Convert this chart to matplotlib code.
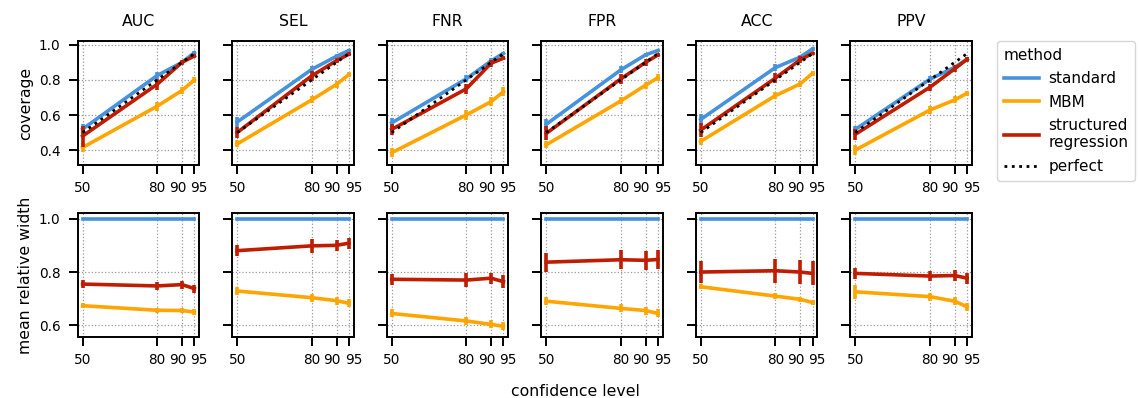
import matplotlib
matplotlib.use("Agg")
import matplotlib.pyplot as plt
import matplotlib.transforms as mtransforms
import numpy as np
from matplotlib.lines import Line2D

# confidence levels on the x axis
levels = [50, 80, 90, 95]
metrics = ["AUC", "SEL", "FNR", "FPR", "ACC", "PPV"]

# coverage (top row), one list per metric, order follows `levels`
cov_standard = {
    "AUC": [0.52, 0.825, 0.90, 0.955],
    "SEL": [0.56, 0.86, 0.935, 0.968],
    "FNR": [0.555, 0.806, 0.908, 0.952],
    "FPR": [0.547, 0.857, 0.943, 0.968],
    "ACC": [0.575, 0.87, 0.93, 0.977],
    "PPV": [0.518, 0.804, 0.872, 0.918],
}
cov_mbm = {
    "AUC": [0.415, 0.65, 0.74, 0.80],
    "SEL": [0.435, 0.686, 0.775, 0.83],
    "FNR": [0.385, 0.60, 0.676, 0.733],
    "FPR": [0.43, 0.68, 0.77, 0.813],
    "ACC": [0.45, 0.71, 0.777, 0.838],
    "PPV": [0.40, 0.628, 0.686, 0.724],
}
cov_sr = {
    "AUC": [0.48, 0.775, 0.90, 0.937],
    "SEL": [0.50, 0.823, 0.91, 0.947],
    "FNR": [0.518, 0.749, 0.895, 0.924],
    "FPR": [0.495, 0.806, 0.90, 0.943],
    "ACC": [0.514, 0.81, 0.914, 0.952],
    "PPV": [0.49, 0.758, 0.863, 0.918],
}
# half widths of the error bars
cov_standard_err = {
    "AUC": [0.03, 0.02, 0.01, 0.01],
    "SEL": [0.03, 0.02, 0.01, 0.01],
    "FNR": [0.03, 0.02, 0.015, 0.01],
    "FPR": [0.03, 0.02, 0.01, 0.01],
    "ACC": [0.03, 0.02, 0.01, 0.01],
    "PPV": [0.02, 0.02, 0.01, 0.01],
}
cov_mbm_err = {
    "AUC": [0.025, 0.025, 0.02, 0.015],
    "SEL": [0.02, 0.02, 0.02, 0.015],
    "FNR": [0.025, 0.03, 0.025, 0.025],
    "FPR": [0.02, 0.02, 0.02, 0.02],
    "ACC": [0.02, 0.02, 0.015, 0.015],
    "PPV": [0.03, 0.025, 0.02, 0.015],
}
cov_sr_err = {
    "AUC": [0.06, 0.03, 0.015, 0.01],
    "SEL": [0.03, 0.03, 0.015, 0.01],
    "FNR": [0.03, 0.03, 0.02, 0.01],
    "FPR": [0.04, 0.03, 0.02, 0.01],
    "ACC": [0.04, 0.03, 0.02, 0.01],
    "PPV": [0.03, 0.02, 0.02, 0.015],
}

# mean relative width (bottom row)
wid_standard = [1.0, 1.0, 1.0, 1.0]
wid_mbm = {
    "AUC": [0.674, 0.657, 0.656, 0.65],
    "SEL": [0.729, 0.704, 0.693, 0.683],
    "FNR": [0.645, 0.617, 0.604, 0.597],
    "FPR": [0.691, 0.664, 0.656, 0.645],
    "ACC": [0.745, 0.71, 0.698, 0.686],
    "PPV": [0.726, 0.708, 0.691, 0.67],
}
wid_sr = {
    "AUC": [0.755, 0.748, 0.753, 0.738],
    "SEL": [0.88, 0.898, 0.90, 0.908],
    "FNR": [0.773, 0.77, 0.777, 0.764],
    "FPR": [0.837, 0.846, 0.844, 0.847],
    "ACC": [0.80, 0.805, 0.80, 0.795],
    "PPV": [0.795, 0.785, 0.787, 0.777],
}
wid_mbm_err = {
    "AUC": [0.01, 0.01, 0.01, 0.01],
    "SEL": [0.015, 0.015, 0.015, 0.015],
    "FNR": [0.015, 0.015, 0.015, 0.015],
    "FPR": [0.015, 0.015, 0.015, 0.015],
    "ACC": [0.01, 0.01, 0.01, 0.01],
    "PPV": [0.025, 0.015, 0.015, 0.015],
}
wid_sr_err = {
    "AUC": [0.015, 0.015, 0.015, 0.015],
    "SEL": [0.02, 0.025, 0.02, 0.02],
    "FNR": [0.02, 0.025, 0.02, 0.025],
    "FPR": [0.035, 0.035, 0.035, 0.035],
    "ACC": [0.04, 0.045, 0.045, 0.045],
    "PPV": [0.02, 0.02, 0.02, 0.02],
}

C_STD = "#4692dc"
C_MBM = "#ffa500"
C_SR = "#c01c00"
LW = 2.6
FS = 11.3      # titles, axis labels, legend
TICK_FS = 9.8  # tick labels

plt.rcParams["font.family"] = ["DejaVu Sans"]
plt.rcParams["font.size"] = FS

fig, axes = plt.subplots(2, 6, figsize=(11.39, 3.98), dpi=100)
fig.subplots_adjust(left=0.0682, right=0.8534, top=0.897, bottom=0.1533,
                    wspace=0.27, hspace=0.387)

x = np.array(levels)
# small sideways nudge (points) so "90" and "95" don't collide
label_nudge = {90: -3.3, 95: 3.3}


def style_axis(ax, show_ylabels):
    ax.set_xlim(48, 97)
    ax.set_xticks(levels)
    ax.grid(True, color="#999999", linestyle=":", linewidth=0.9)
    ax.set_axisbelow(True)
    ax.tick_params(direction="out", length=6.5, width=1.4, labelsize=TICK_FS)
    ax.tick_params(axis="x", pad=5)
    ax.tick_params(axis="y", pad=6)
    for s in ax.spines.values():
        s.set_linewidth(1.4)
    if not show_ylabels:
        ax.tick_params(axis="y", labelleft=False)
    for lev, tick in zip(levels, ax.xaxis.get_major_ticks()):
        dx = label_nudge.get(lev, 0.0)
        if dx:
            off = mtransforms.ScaledTranslation(dx / 72, 0, fig.dpi_scale_trans)
            tick.label1.set_transform(tick.label1.get_transform() + off)


for j, m in enumerate(metrics):
    ax = axes[0, j]
    ax.errorbar(x, cov_standard[m], yerr=cov_standard_err[m], color=C_STD,
                lw=LW, elinewidth=LW, capsize=0, zorder=3)
    ax.errorbar(x, cov_mbm[m], yerr=cov_mbm_err[m], color=C_MBM,
                lw=LW, elinewidth=LW, capsize=0, zorder=3)
    ax.errorbar(x, cov_sr[m], yerr=cov_sr_err[m], color=C_SR,
                lw=LW, elinewidth=LW, capsize=0, zorder=4)
    ax.plot(x, x / 100, color="black", linestyle=":", lw=2.0, zorder=5)
    ax.set_ylim(0.315, 1.022)
    ax.set_yticks([0.4, 0.6, 0.8, 1.0])
    ax.set_title(m, fontsize=FS, pad=10.5)
    style_axis(ax, j == 0)

    ax = axes[1, j]
    ax.plot(x, wid_standard, color=C_STD, lw=LW, zorder=3)
    ax.errorbar(x, wid_mbm[m], yerr=wid_mbm_err[m], color=C_MBM,
                lw=LW, elinewidth=LW, capsize=0, zorder=3)
    ax.errorbar(x, wid_sr[m], yerr=wid_sr_err[m], color=C_SR,
                lw=LW, elinewidth=LW, capsize=0, zorder=4)
    ax.set_ylim(0.557, 1.021)
    ax.set_yticks([0.6, 0.8, 1.0])
    style_axis(ax, j == 0)

axes[0, 0].set_ylabel("coverage", fontsize=FS, labelpad=4)
axes[1, 0].set_ylabel("mean relative width", fontsize=FS, labelpad=4)
fig.text(0.505, 0.016, "confidence level", ha="center", va="center", fontsize=FS)

handles = [
    Line2D([], [], color=C_STD, lw=LW),
    Line2D([], [], color=C_MBM, lw=LW),
    Line2D([], [], color=C_SR, lw=LW),
    Line2D([], [], color="black", lw=2.0, linestyle=":"),
]
labels = ["standard", "MBM", "structured\nregression", "perfect"]
leg = fig.legend(handles, labels, title="method", loc="upper left",
                 bbox_to_anchor=(0.875, 0.897), fontsize=11, title_fontsize=11,
                 handlelength=2.3, frameon=True, alignment="left",
                 borderaxespad=0.0, labelspacing=0.55, handletextpad=0.65,
                 borderpad=0.45)
leg.get_frame().set_edgecolor("#cccccc")

fig.savefig("out.png", dpi=100)
